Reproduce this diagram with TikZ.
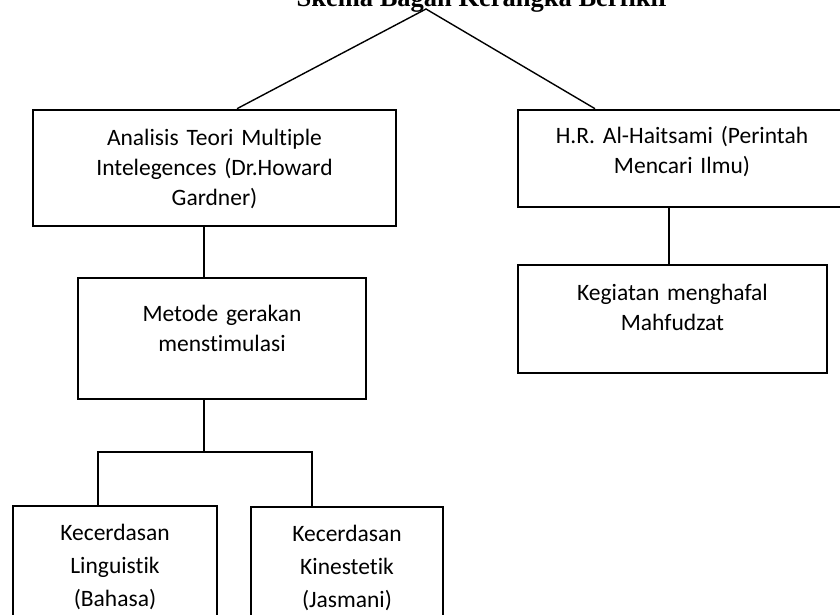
\documentclass[tikz,border=0pt]{standalone}
\usepackage{fontspec}
\setmainfont{Carlito}[Ligatures={NoCommon}]
\newfontfamily\titlefont{Liberation Serif}
\begin{document}
\begin{tikzpicture}[x=1pt,y=-1pt,
  boxshape/.style={draw=black,line width=2.6pt,rectangle,inner sep=0pt},
  boxtext/.style={inner sep=0pt,align=center,anchor=base,font=\fontsize{23.5}{30}\selectfont},
  boxtextb/.style={inner sep=0pt,align=center,anchor=base,font=\fontsize{23.5}{33}\selectfont},
  conn/.style={draw=black,line width=1.4pt}]
\useasboundingbox (0,0) rectangle (840,615);
\clip (0,0) rectangle (840,615);
% title
\node[inner sep=0pt,anchor=base east,font=\titlefont\bfseries\fontsize{26.5}{30}\selectfont] (title) at (670,7) {Skema Bagan Kerangka Berfikir};
% boxes
\node[boxshape,minimum width=363pt,minimum height=116pt] (b1) at (214.5,168) {};
\node[boxshape,minimum width=328pt,minimum height=97pt] (b2) at (682,158.5) {};
\node[boxshape,minimum width=288pt,minimum height=121pt] (b3) at (222,338.5) {};
\node[boxshape,minimum width=309pt,minimum height=108pt] (b4) at (672.5,319) {};
\node[boxshape,minimum width=204pt,minimum height=134pt] (b5) at (115,573) {};
\node[boxshape,minimum width=192pt,minimum height=133pt] (b6) at (347,573.5) {};
% texts
\node[boxtext,text width=340pt] (t1) at (214.5,145) {Analisis Teori Multiple\\Intelegences (Dr.Howard\\Gardner)};
\node[boxtext,text width=310pt] (t2) at (682,143) {H.R. Al-Haitsami (Perintah\\Mencari Ilmu)};
\node[boxtext,text width=270pt] (t3) at (222,321) {Metode gerakan\\menstimulasi};
\node[boxtext,text width=290pt] (t4) at (672.5,300) {Kegiatan menghafal\\Mahfudzat};
\node[boxtextb,text width=190pt] (t5) at (115,540) {Kecerdasan\\Linguistik\\(Bahasa)};
\node[boxtextb,text width=180pt] (t6) at (347,541) {Kecerdasan\\Kinestetik\\(Jasmani)};
% connectors
\coordinate (ap) at (426,9);
\draw[conn] ([xshift=22.5pt]b1.north) -- (ap) -- ([xshift=-87pt]b2.north);
\draw[conn] ([xshift=-10.5pt]b1.south) -- ([xshift=-10.5pt]b1.south |- b3.north);
\draw[conn] ([xshift=-3.5pt]b4.north) -- ([xshift=-3.5pt]b4.north |- b2.south);
\coordinate (jn) at (204,452);
\coordinate (jl) at (98,452);
\coordinate (jr) at (312,452);
\draw[conn] (jn |- b3.south) -- (jn);
\draw[conn] (jl |- b5.north) -- (jl) -- (jr) -- (jr |- b6.north);
\end{tikzpicture}
\end{document}
